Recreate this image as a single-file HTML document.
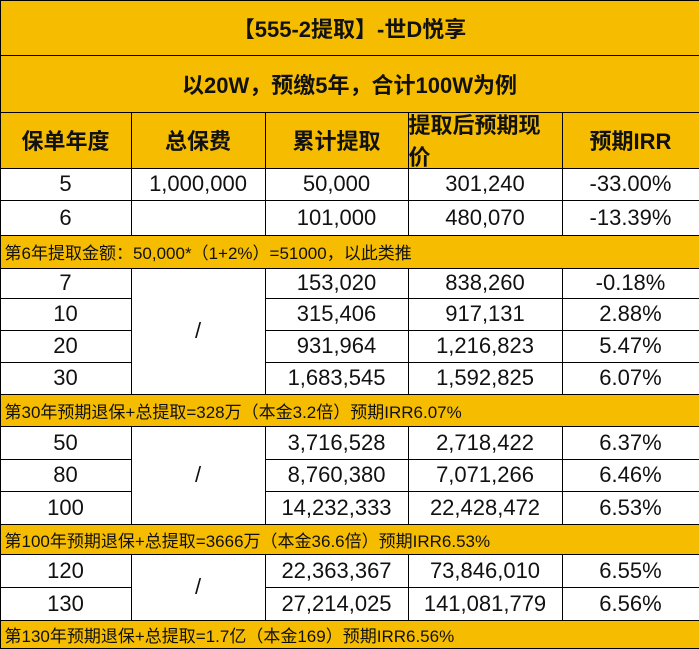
<!DOCTYPE html>
<html><head><meta charset="utf-8"><style>
body{margin:0;width:699px;height:647px;overflow:hidden;background:#fff;font-family:"Liberation Sans","Noto Sans CJK SC",sans-serif}
#t{position:absolute;left:0;top:0;width:699px;height:647px}
.c{position:absolute;box-sizing:border-box;border:1px solid #000;display:flex;align-items:center;justify-content:center;color:#111;font-size:22px;margin:-0.5px 0 0 -0.5px}
.y{background:#F6BD00}
.b{font-weight:bold}
.n{justify-content:flex-start;padding-left:4px;font-size:17px}
</style></head><body>
<div id="t"></div>
<script>
const cols=[0,131,265,408,562,699];
const rows=[
 {y:[0,55],cells:[["【555-2提取】-世D悦享",0,5]],cls:"y b",name:"title-row"},
 {y:[55,112],cells:[["以20W，预缴5年，合计100W为例",0,5]],cls:"y b",name:"subtitle-row"},
 {y:[112,168],cells:[["保单年度",0,1],["总保费",1,2],["累计提取",2,3],["提取后预期现价",3,4],["预期IRR",4,5]],cls:"y b",name:"header-row"},
 {y:[168,200],cells:[["5",0,1],["1,000,000",1,2],["50,000",2,3],["301,240",3,4],["-33.00%",4,5]],name:"row-year-5"},
 {y:[200,235],cells:[["6",0,1],["",1,2],["101,000",2,3],["480,070",3,4],["-13.39%",4,5]],name:"row-year-6"},
 {y:[235,268],cells:[["第6年提取金额：50,000*（1+2%）=51000，以此类推",0,5]],cls:"y n",name:"note-year-6"},
 {y:[268,298],cells:[["7",0,1],["153,020",2,3],["838,260",3,4],["-0.18%",4,5]],name:"row-year-7"},
 {y:[298,330],cells:[["10",0,1],["315,406",2,3],["917,131",3,4],["2.88%",4,5]],name:"row-year-10"},
 {y:[330,362],cells:[["20",0,1],["931,964",2,3],["1,216,823",3,4],["5.47%",4,5]],name:"row-year-20"},
 {y:[362,394],cells:[["30",0,1],["1,683,545",2,3],["1,592,825",3,4],["6.07%",4,5]],name:"row-year-30"},
 {y:[394,426],cells:[["第30年预期退保+总提取=328万（本金3.2倍）预期IRR6.07%",0,5]],cls:"y n",name:"note-year-30"},
 {y:[426,459],cells:[["50",0,1],["3,716,528",2,3],["2,718,422",3,4],["6.37%",4,5]],name:"row-year-50"},
 {y:[459,491],cells:[["80",0,1],["8,760,380",2,3],["7,071,266",3,4],["6.46%",4,5]],name:"row-year-80"},
 {y:[491,524],cells:[["100",0,1],["14,232,333",2,3],["22,428,472",3,4],["6.53%",4,5]],name:"row-year-100"},
 {y:[524,554],cells:[["第100年预期退保+总提取=3666万（本金36.6倍）预期IRR6.53%",0,5]],cls:"y n",name:"note-year-100"},
 {y:[554,587],cells:[["120",0,1],["22,363,367",2,3],["73,846,010",3,4],["6.55%",4,5]],name:"row-year-120"},
 {y:[587,620],cells:[["130",0,1],["27,214,025",2,3],["141,081,779",3,4],["6.56%",4,5]],name:"row-year-130"},
 {y:[620,648],cells:[["第130年预期退保+总提取=1.7亿（本金169）预期IRR6.56%",0,5]],cls:"y n",name:"note-year-130"}
];
const merged=[[268,394],[426,524],[554,620]];
const t=document.getElementById('t');
function cell(txt,x0,x1,y0,y1,cls){
 const d=document.createElement('div');
 d.className='c '+(cls||'');
 d.style.left=x0+'px';d.style.top=y0+'px';d.style.width=(x1-x0+1)+'px';d.style.height=(y1-y0+1)+'px';
 d.textContent=txt;t.appendChild(d);return d;
}
rows.forEach(r=>{
 r.cells.forEach(c=>{
  const d=cell(c[0],cols[c[1]],cols[c[2]],r.y[0],r.y[1],r.cls);
  
  
 });
});
merged.forEach(m=>{
 const d=cell('/',cols[1],cols[2],m[0],m[1],'');
 
 
});
</script>
</body></html>
